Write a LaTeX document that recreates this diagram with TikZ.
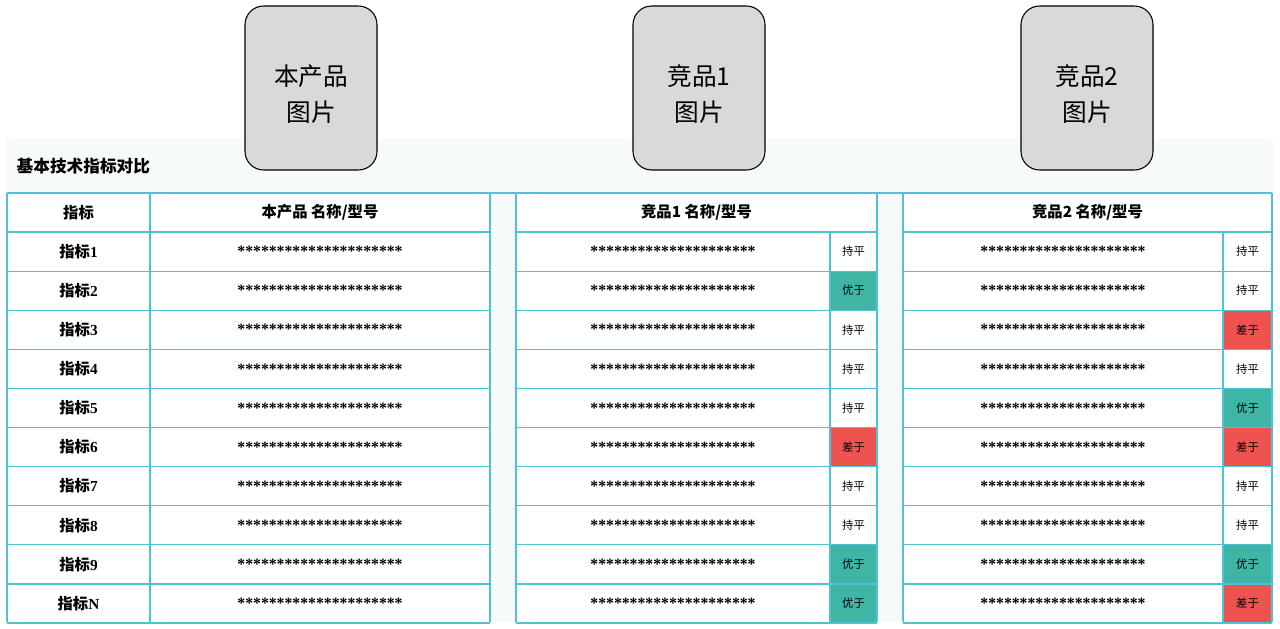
\documentclass[tikz,border=0pt]{standalone}
\usepackage{fontspec}
\setmainfont{Liberation Serif}
\newfontfamily\cjk{Noto Sans CJK SC}
\definecolor{bgc}{HTML}{F6FAFB}
\definecolor{grid}{HTML}{4EC3D6}
\definecolor{good}{HTML}{3FB5A6}
\definecolor{bad}{HTML}{EE5350}
\definecolor{pic}{HTML}{D9D9D9}
\begin{document}
\begin{tikzpicture}[x=0.75pt,y=-0.75pt,
  picbox/.style={draw=black,fill=pic,rounded corners=14pt,line width=0.8pt},
  gl/.style={draw=grid,line width=0.9pt},
  hd/.style={font=\cjk\bfseries\fontsize{11.5}{13}\selectfont},
  st/.style={font=\bfseries\fontsize{11.8}{12}\selectfont},
  rt/.style={font=\cjk\fontsize{8.5}{10}\selectfont}]
\useasboundingbox (0,0) rectangle (1280,628);
\fill[bgc] (6,138) rectangle (1273,622);
\node[font=\cjk\bfseries\fontsize{12.5}{14}\selectfont,anchor=west] (title) at (12,166) {基本技术指标对比};
% pictures
\foreach \x/\t [count=\i] in {311/本产品, 699/竞品1, 1087/竞品2}{
  \draw[picbox] (\x-66,6) rectangle (\x+66,170);
  \node[font=\cjk\fontsize{18.5}{27}\selectfont,align=center] (p\i) at (\x,94) {\t\\图片};
}
% white cells
\fill[white] (7,193) rectangle (490,622);
\fill[white] (516,193) rectangle (877,622);
\fill[white] (903,193) rectangle (1272,622);
% colored rating cells
\def\rh{39.1}
\foreach \r/\c [count=\i] in {持平/white,优于/good,持平/white,持平/white,持平/white,差于/bad,持平/white,持平/white,优于/good,优于/good}{
  \pgfmathsetmacro\yt{232+(\i-1)*\rh}
  \fill[\c] (830,\yt) rectangle (877,\yt+\rh);
  \node[rt] (ra\i) at (853.5,\yt+\rh/2) {\r};
}
\foreach \r/\c [count=\i] in {持平/white,持平/white,差于/bad,持平/white,优于/good,差于/bad,持平/white,持平/white,优于/good,差于/bad}{
  \pgfmathsetmacro\yt{232+(\i-1)*\rh}
  \fill[\c] (1223,\yt) rectangle (1272,\yt+\rh);
  \node[rt] (rb\i) at (1247.5,\yt+\rh/2) {\r};
}
% row texts
\foreach \l [count=\i] in {1,2,3,4,5,6,7,8,9,N}{
  \pgfmathsetmacro\yc{232+(\i-0.5)*\rh}
  \node[font=\bfseries\fontsize{11.5}{13}\selectfont] (l\i) at (78.5,\yc) {{\cjk 指标}\l};
  \node[st] (s\i a) at (320,\yc) {*********************};
  \node[st] (s\i b) at (673,\yc) {*********************};
  \node[st] (s\i c) at (1063,\yc) {*********************};
}
% headers
\node[hd] (h0) at (78.5,212.5) {指标};
\node[hd] (h1) at (320,212.5) {本产品 名称/型号};
\node[hd] (h2) at (696.5,212.5) {竞品1 名称/型号};
\node[hd] (h3) at (1087.5,212.5) {竞品2 名称/型号};
% grid
\foreach \x in {7,150,490,516,877,903,1272} \draw[gl] (\x,193) -- (\x,622);
\foreach \x in {830,1223} \draw[gl] (\x,232) -- (\x,622);
\foreach \i in {0,...,10}{
  \pgfmathsetmacro\yy{232+\i*\rh}
  \draw[gl] (7,\yy) -- (490,\yy);
  \draw[gl] (516,\yy) -- (877,\yy);
  \draw[gl] (903,\yy) -- (1272,\yy);
}
\draw[gl] (7,193) -- (1272,193);
\end{tikzpicture}
\end{document}
